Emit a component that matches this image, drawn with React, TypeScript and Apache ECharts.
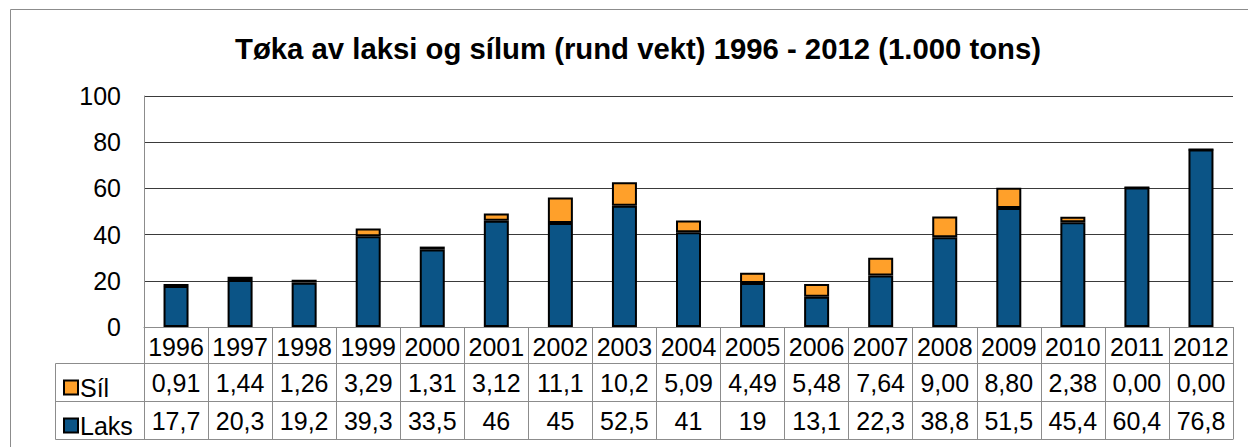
import React, { useEffect, useRef } from "react";
import * as echarts from "echarts";

const years = ["1996", "1997", "1998", "1999", "2000", "2001", "2002", "2003", "2004", "2005", "2006", "2007", "2008", "2009", "2010", "2011", "2012"];
const laks = [17.7, 20.3, 19.2, 39.3, 33.5, 46, 45, 52.5, 41, 19, 13.1, 22.3, 38.8, 51.5, 45.4, 60.4, 76.8];
const sil = [0.91, 1.44, 1.26, 3.29, 1.31, 3.12, 11.1, 10.2, 5.09, 4.49, 5.48, 7.64, 9.0, 8.8, 2.38, 0.0, 0.0];
const yTicks = { min: 0, max: 100, interval: 20 };
const titleText = "Tøka av laksi og sílum (rund vekt) 1996 - 2012 (1.000 tons)";

const FONT = "'Liberation Sans', Arial, sans-serif";
const BLUE = "#0B5486";
const ORANGE = "#FFA02A";
const GRAY = "#8C8C8C";

const fmtSil = (v: number) => (v >= 10 ? v.toFixed(1) : v.toFixed(2)).replace(".", ",");
const fmtLaks = (v: number) => String(v).replace(".", ",");

export default function App() {
  const ref = useRef<HTMLDivElement>(null);
  useEffect(() => {
    const chart = echarts.init(ref.current!, null, { renderer: "svg" });
    const label = { fontSize: 25, color: "#000", fontFamily: FONT };
    const tableAxis = (offset: number, fmt: (i: number) => string, tick: number) => ({
      type: "category",
      data: years,
      position: "bottom",
      offset,
      axisLine: { show: true, lineStyle: { color: GRAY, width: 1 } },
      axisTick: { show: true, length: tick, interval: 0, lineStyle: { color: GRAY, width: 1 } },
      axisLabel: { ...label, interval: 0, margin: 7, formatter: (_v: string, i: number) => fmt(i) },
      splitLine: { show: false },
    });
    chart.setOption({
      animation: false,
      backgroundColor: "#fff",
      textStyle: { fontFamily: FONT },
      title: {
        text: titleText,
        left: 633,
        top: 29,
        textAlign: "center",
        textStyle: { fontSize: 29.3, fontWeight: "bold", color: "#000", fontFamily: FONT },
      },
      legend: {
        data: ["Síl", "Laks"],
        orient: "vertical",
        left: 63,
        top: 375,
        padding: 0,
        itemWidth: 14,
        itemHeight: 14,
        itemGap: 13,
        icon: "rect",
        textStyle: { ...label, padding: [0, 0, 0, -3] },
      },
      grid: { left: 144, top: 96, width: 1089, height: 231, containLabel: false },
      xAxis: [
        tableAxis(0, (i) => years[i], 36),
        tableAxis(36, (i) => fmtSil(sil[i]), 38),
        tableAxis(74, (i) => fmtLaks(laks[i]), 38),
      ],
      yAxis: {
        type: "value",
        ...yTicks,
        axisLine: { show: true, lineStyle: { color: GRAY, width: 1 } },
        axisTick: { show: false },
        axisLabel: { ...label, margin: 23 },
        splitLine: { show: true, lineStyle: { color: "#3a3a3a", width: 1 } },
      },
      series: [
        {
          name: "Laks",
          type: "bar",
          stack: "total",
          barWidth: 25,
          data: laks,
          itemStyle: { color: BLUE, borderColor: "#000", borderWidth: 2 },
        },
        {
          name: "Síl",
          type: "bar",
          stack: "total",
          barWidth: 25,
          data: sil,
          itemStyle: { color: ORANGE, borderColor: "#000", borderWidth: 2 },
        },
      ],
      graphic: [
        { type: "rect", shape: { x: 10.5, y: 9.5, width: 1400, height: 600 }, style: { fill: "none", stroke: GRAY, lineWidth: 1 }, silent: true, z: -1 },
        { type: "line", shape: { x1: 55.5, y1: 363.5, x2: 144, y2: 363.5 }, style: { stroke: GRAY, lineWidth: 1 } },
        { type: "line", shape: { x1: 55.5, y1: 401.5, x2: 144, y2: 401.5 }, style: { stroke: GRAY, lineWidth: 1 } },
        { type: "line", shape: { x1: 55.5, y1: 439.5, x2: 1233.5, y2: 439.5 }, style: { stroke: GRAY, lineWidth: 1 } },
        { type: "line", shape: { x1: 55.5, y1: 363.5, x2: 55.5, y2: 439.5 }, style: { stroke: GRAY, lineWidth: 1 } },
      ],
    });
    return () => chart.dispose();
  }, []);
  return <div ref={ref} style={{ position: "fixed", left: 0, top: 0, width: 1248, height: 447 }} />;
}
